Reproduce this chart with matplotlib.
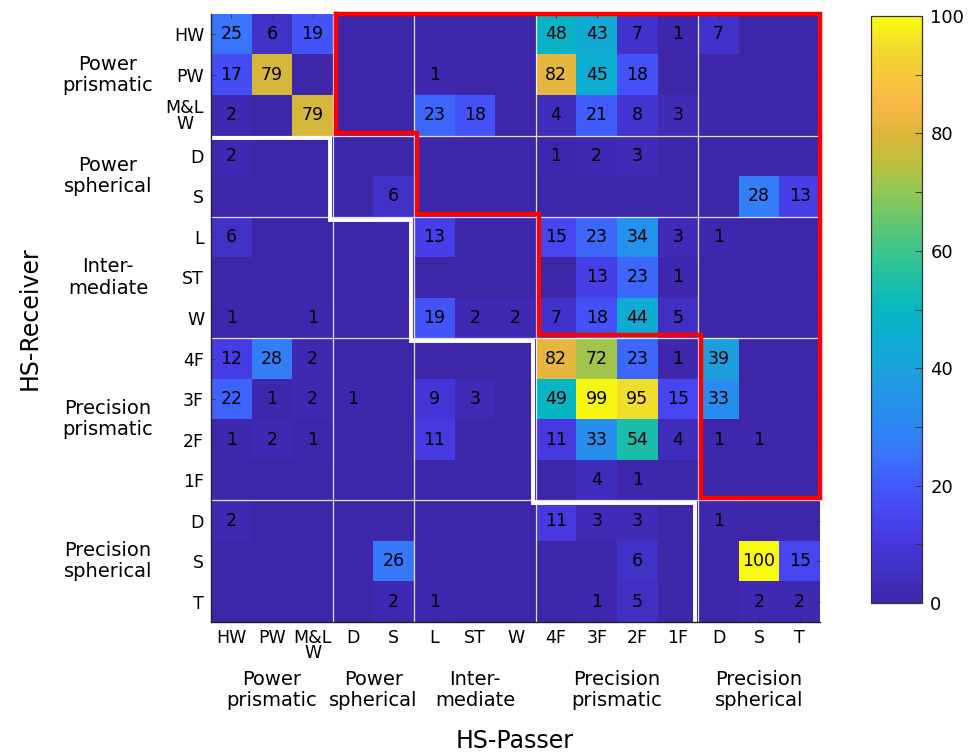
import numpy as np
import matplotlib
matplotlib.use("Agg")
import matplotlib.pyplot as plt
from matplotlib.colors import LinearSegmentedColormap
from matplotlib.transforms import blended_transform_factory

# row / column labels (same order for receiver and passer)
labels = ["HW", "PW", "M&L\nW", "D", "S", "L", "ST", "W",
          "4F", "3F", "2F", "1F", "D", "S", "T"]
groups = ["Power\nprismatic", "Power\nspherical", "Inter-\nmediate",
          "Precision\nprismatic", "Precision\nspherical"]
group_edges = [0, 3, 5, 8, 12, 15]

# rows = HS-Receiver, cols = HS-Passer
counts = np.array([
    [25, 6, 19, 0, 0, 0, 0, 0, 48, 43, 7, 1, 7, 0, 0],
    [17, 79, 0, 0, 0, 1, 0, 0, 82, 45, 18, 0, 0, 0, 0],
    [2, 0, 79, 0, 0, 23, 18, 0, 4, 21, 8, 3, 0, 0, 0],
    [2, 0, 0, 0, 0, 0, 0, 0, 1, 2, 3, 0, 0, 0, 0],
    [0, 0, 0, 0, 6, 0, 0, 0, 0, 0, 0, 0, 0, 28, 13],
    [6, 0, 0, 0, 0, 13, 0, 0, 15, 23, 34, 3, 1, 0, 0],
    [0, 0, 0, 0, 0, 0, 0, 0, 0, 13, 23, 1, 0, 0, 0],
    [1, 0, 1, 0, 0, 19, 2, 2, 7, 18, 44, 5, 0, 0, 0],
    [12, 28, 2, 0, 0, 0, 0, 0, 82, 72, 23, 1, 39, 0, 0],
    [22, 1, 2, 1, 0, 9, 3, 0, 49, 99, 95, 15, 33, 0, 0],
    [1, 2, 1, 0, 0, 11, 0, 0, 11, 33, 54, 4, 1, 1, 0],
    [0, 0, 0, 0, 0, 0, 0, 0, 0, 4, 1, 0, 0, 0, 0],
    [2, 0, 0, 0, 0, 0, 0, 0, 11, 3, 3, 0, 1, 0, 0],
    [0, 0, 0, 0, 26, 0, 0, 0, 0, 0, 6, 0, 0, 100, 15],
    [0, 0, 0, 0, 2, 1, 0, 0, 0, 1, 5, 0, 0, 2, 2],
])

# parula-like colormap (old MATLAB default)
parula = LinearSegmentedColormap.from_list("parula", [
    (0.00, "#3e26a8"), (0.05, "#4130c3"), (0.10, "#4637dc"),
    (0.15, "#4646f0"), (0.20, "#4259fb"), (0.25, "#3a74fb"),
    (0.30, "#2e86f5"), (0.35, "#2394e8"), (0.40, "#1ba2dc"),
    (0.45, "#0daed2"), (0.50, "#06b8c0"), (0.55, "#1fbfa6"),
    (0.60, "#3cc58c"), (0.65, "#66c66f"), (0.70, "#90c856"),
    (0.75, "#bcc03e"), (0.80, "#dcb63a"), (0.85, "#f9b848"),
    (0.90, "#f7c83a"), (0.95, "#f1dd2c"), (1.00, "#f9fb0e"),
])

fig = plt.figure(figsize=(9.68, 7.54), dpi=100)
ax = fig.add_axes([211 / 968, 1 - 622 / 754, 609 / 968, 608 / 754])

im = ax.imshow(counts, cmap=parula, vmin=0, vmax=100, aspect="auto",
               extent=(0, 15, 15, 0), interpolation="nearest")

for i in range(15):
    for j in range(15):
        if counts[i, j] > 0:
            ax.text(j + 0.5, i + 0.5, str(counts[i, j]), ha="center", va="center",
                    fontsize=12.5, color="black")

# thin group separators
for e in group_edges[1:-1]:
    ax.axhline(e, color="white", lw=0.9, alpha=0.85)
    ax.axvline(e, color="white", lw=0.9, alpha=0.85)

# staircase outlines
d = 0.07
steps = group_edges[1:-1]
red_x = [steps[0] + d, 15, 15]
red_y = [0, 0, steps[-1] - d]
for k in range(len(steps) - 1, -1, -1):
    red_x += [steps[k] + d, steps[k] + d]
    red_y += [steps[k] - d, (steps[k - 1] - d) if k > 0 else steps[k] - d]
red_x += [steps[0] + d]
red_y += [0]
ax.plot(red_x, red_y, color="#ff0000", lw=3.2, clip_on=False, solid_joinstyle="miter")

white_x = [0]
white_y = [steps[0] + d]
for k in range(len(steps)):
    nxt = steps[k + 1] + d if k + 1 < len(steps) else 15
    white_x += [steps[k] - d, steps[k] - d]
    white_y += [steps[k] + d, nxt]
ax.plot(white_x, white_y, color="white", lw=2.8, clip_on=False, solid_joinstyle="miter")

ax.set_xlim(0, 15)
ax.set_ylim(15, 0)
ax.set_xticks(np.arange(15) + 0.5)
ax.set_yticks(np.arange(15) + 0.5)
ax.set_xticklabels(labels, fontsize=12.5, linespacing=0.8, va="top")
ax.set_yticklabels(labels, fontsize=12.5, linespacing=0.8, multialignment="center")
ax.tick_params(direction="in", length=3, width=0.6, top=True, right=True,
               colors="#333333", labelcolor="black", pad=5)
for s in ["top", "right"]:
    ax.spines[s].set_visible(False)
for s in ["left", "bottom"]:
    ax.spines[s].set_color("#222222")
    ax.spines[s].set_linewidth(1.0)

# group labels
trans_left = blended_transform_factory(fig.transFigure, ax.transData)
trans_bot = blended_transform_factory(ax.transData, fig.transFigure)
for g, (a, b) in zip(groups, zip(group_edges[:-1], group_edges[1:])):
    mid = (a + b) / 2
    ax.text(108 / 968, mid, g, transform=trans_left, ha="center", va="center",
            fontsize=14, linespacing=1.15)
    ax.text(mid, 1 - 690 / 754, g, transform=trans_bot, ha="center", va="center",
            fontsize=14, linespacing=1.15)

fig.text(515 / 968, 1 - 741 / 754, "HS-Passer", ha="center", va="center", fontsize=17)
fig.text(30 / 968, 1 - 318 / 754, "HS-Receiver", ha="center", va="center",
         fontsize=17, rotation=90)

# colorbar
cax = fig.add_axes([871 / 968, 1 - 603 / 754, 51 / 968, 587 / 754])
cb = fig.colorbar(im, cax=cax, ticks=np.arange(0, 101, 20))
cb.ax.set_yticks(np.arange(10, 100, 20), minor=True)
cb.ax.tick_params(which="both", direction="in", length=5, width=0.7,
                  colors="#333333", labelcolor="black", labelsize=13, pad=6)
cb.outline.set_edgecolor("#333333")
cb.outline.set_linewidth(0.9)

fig.savefig("out.png", dpi=100)
